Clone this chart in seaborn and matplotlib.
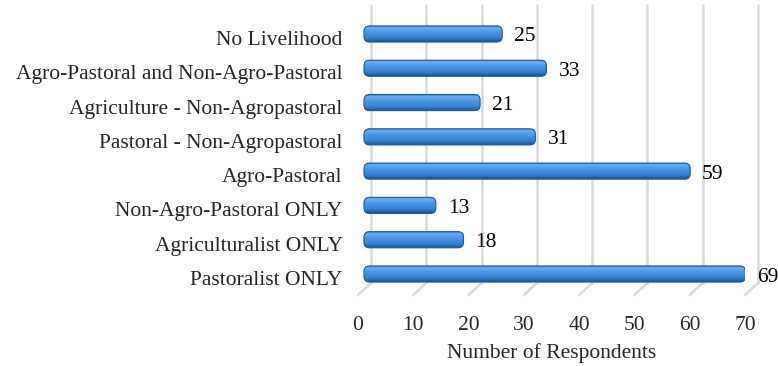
import numpy as np
import pandas as pd
import matplotlib
matplotlib.use("Agg")
import matplotlib.pyplot as plt
from matplotlib.transforms import ScaledTranslation
from matplotlib.patches import FancyBboxPatch
import seaborn as sns

categories = [
    "Pastoralist ONLY",
    "Agriculturalist ONLY",
    "Non-Agro-Pastoral ONLY",
    "Agro-Pastoral",
    "Pastoral - Non-Agropastoral",
    "Agriculture - Non-Agropastoral",
    "Agro-Pastoral and Non-Agro-Pastoral",
    "No Livelihood",
]
respondents = [69, 18, 13, 59, 31, 21, 33, 25]
x_ticks = [0, 10, 20, 30, 40, 50, 60, 70]

df = pd.DataFrame({"category": categories[::-1], "respondents": respondents[::-1]})

sns.set_theme(style="white")
plt.rcParams["font.family"] = ["Liberation Serif", "DejaVu Serif"]
FS = 15.5

W, H, DPI = 778, 366, 100
fig = plt.figure(figsize=(W / DPI, H / DPI), dpi=DPI)
# axes frame in "front" pixel coordinates
left, right, top, bottom = 358, 745, 17, 295
ax = fig.add_axes([left / W, 1 - bottom / H, (right - left) / W, (bottom - top) / H])

sns.barplot(data=df, y="category", x="respondents", orient="h",
            color="#3a87d8", width=0.47, ax=ax, saturation=1)

n = len(categories)
y_floor = n - 1 + 0.437
y_top = -0.67
ax.set_xlim(0, 70)
ax.set_ylim(y_floor, y_top)

# depth offsets (bars in the middle, grid on the back wall)
mid = ScaledTranslation(0.06, 0.06, fig.dpi_scale_trans)
back = ScaledTranslation(0.13, 0.12, fig.dpi_scale_trans)

# bars: rounded, shaded cylinders at mid-depth
grad = np.linspace(0, 1, 64).reshape(-1, 1)
cmap = matplotlib.colors.LinearSegmentedColormap.from_list(
    "bar", [(0.0, "#2f72bd"), (0.15, "#6cb0f2"), (0.4, "#4a97e6"),
            (0.75, "#3482d3"), (1.0, "#1b5292")])
bars = list(ax.patches)
for p in bars:
    p.set_visible(False)
    x0, y0 = p.get_x(), p.get_y()
    w, h = p.get_width(), p.get_height()
    rb = FancyBboxPatch((x0, y0), w, h,
                        boxstyle="round,pad=0,rounding_size=1.0",
                        mutation_aspect=0.16, transform=ax.transData + mid,
                        facecolor="none", edgecolor="#1e5a98", lw=0.8, zorder=3)
    ax.add_patch(rb)
    im = ax.imshow(grad, extent=(x0, x0 + w, y0 + h, y0), cmap=cmap,
                   aspect="auto", zorder=2.5,
                   transform=ax.transData + mid, interpolation="bicubic")
    im.set_clip_path(rb)
ax.set_xlim(0, 70)
ax.set_ylim(y_floor, y_top)

# back-wall gridlines and floor diagonals
for xv in x_ticks:
    ax.plot([xv, xv], [y_floor, y_top], color="#d9d9d9", lw=1.8,
            transform=ax.transData + back, zorder=0, clip_on=False)
    ax.annotate("", xy=(xv, y_floor), xytext=(13, 12), textcoords="offset pixels",
                arrowprops=dict(arrowstyle="-", color="#d9d9d9", lw=1.8,
                                shrinkA=0, shrinkB=0), zorder=0, annotation_clip=False)

# value labels
for i, v in enumerate(df["respondents"]):
    ax.annotate(str(v), xy=(v, i), xytext=(6 + 12, 3), textcoords="offset pixels",
                va="center", ha="left", fontsize=FS, color="black",
                annotation_clip=False)

for s in ax.spines.values():
    s.set_visible(False)
ax.set_xticks(x_ticks)
ax.set_xticklabels([str(t) for t in x_ticks], fontsize=FS)
ax.tick_params(axis="x", length=0, pad=15)
ax.tick_params(axis="y", length=0, pad=11, labelsize=FS)
up = ScaledTranslation(0, 0.02, fig.dpi_scale_trans)
for lab in ax.get_yticklabels():
    lab.set_transform(lab.get_transform() + up)
ax.set_ylabel("")
ax.set_xlabel("Number of Respondents", fontsize=FS)
ax.xaxis.set_label_coords(0.5, -(353 - bottom) / (bottom - top))
ax.xaxis.label.set_va("center")
ax.grid(False)

fig.savefig("out.png", dpi=DPI)
